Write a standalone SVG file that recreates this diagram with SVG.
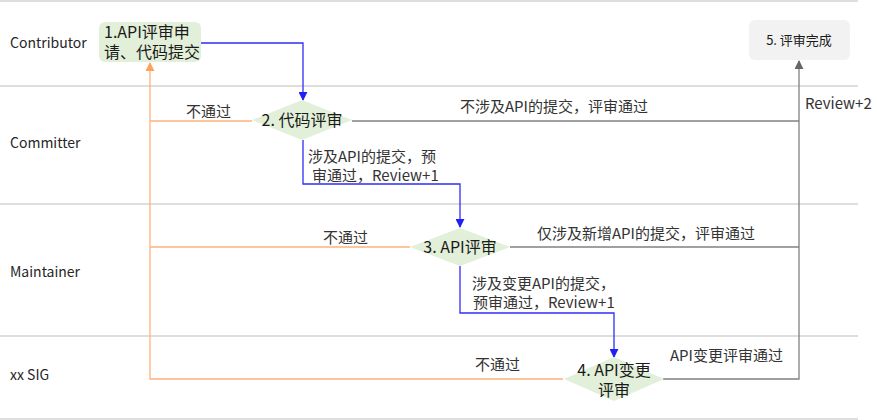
<svg xmlns="http://www.w3.org/2000/svg" width="875" height="420" viewBox="0 0 875 420">
<style>
text{font-family:"Noto Sans CJK SC","Noto Sans",sans-serif;fill:#262626}
.lane{stroke:#dedede;stroke-width:2}
.lbl{font-size:14px}
.node{font-size:16px;fill:#1a1a1a}
.el{font-size:15px;fill:#333}
.blue{stroke:#2e2ef5;stroke-width:1.3;fill:none}
.orange{stroke:#ffb27a;stroke-width:1.3;fill:none}
.gray{stroke:#808080;stroke-width:1.3;fill:none}
.dia{fill:#e2efd9}
</style>
<defs>
<marker id="ab" viewBox="0 0 10 10" refX="9" refY="5" markerWidth="9" markerHeight="9" markerUnits="userSpaceOnUse" orient="auto"><path d="M0,0 L10,5 L0,10 z" fill="#2020f5"/></marker>
<marker id="ao" viewBox="0 0 10 10" refX="9" refY="5" markerWidth="9" markerHeight="9" markerUnits="userSpaceOnUse" orient="auto"><path d="M0,0 L10,5 L0,10 z" fill="#ffa15c"/></marker>
<marker id="ag" viewBox="0 0 10 10" refX="9" refY="5" markerWidth="9" markerHeight="9" markerUnits="userSpaceOnUse" orient="auto"><path d="M0,0 L10,5 L0,10 z" fill="#666"/></marker>
</defs>
<rect width="875" height="420" fill="#fff"/>
<g id="lanes">
<line class="lane" x1="0" y1="1" x2="858" y2="1"/>
<line class="lane" x1="0" y1="86" x2="858" y2="86"/>
<line class="lane" x1="0" y1="204" x2="858" y2="204"/>
<line class="lane" x1="0" y1="336" x2="858" y2="336"/>
<line class="lane" x1="0" y1="419" x2="858" y2="419"/>
<text class="lbl" x="10" y="48">Contributor</text>
<text class="lbl" x="10" y="148">Committer</text>
<text class="lbl" x="10" y="277">Maintainer</text>
<text class="lbl" x="10" y="380">xx SIG</text>
</g>
<g id="connectors">
<polyline class="blue" points="201,43 303,43 303,100" marker-end="url(#ab)"/>
<polyline class="blue" points="303,140 303,184 460,184 460,227" marker-end="url(#ab)"/>
<polyline class="blue" points="460,266 460,313 614,313 614,357" marker-end="url(#ab)"/>
<polyline class="orange" points="563,379 150,379 150,63" marker-end="url(#ao)"/>
<line class="orange" x1="252" y1="121" x2="150" y2="121"/>
<line class="orange" x1="410" y1="247" x2="150" y2="247"/>
<polyline class="gray" points="663,379 799,379 799,61" marker-end="url(#ag)"/>
<line class="gray" x1="352" y1="121" x2="799" y2="121"/>
<line class="gray" x1="510" y1="247" x2="799" y2="247"/>
<text class="el" x="186" y="117">不通过</text>
<text class="el" x="323" y="243">不通过</text>
<text class="el" x="475" y="370">不通过</text>
<text class="el" x="460" y="112">不涉及API的提交，评审通过</text>
<text class="el" x="537" y="239">仅涉及新增API的提交，评审通过</text>
<text class="el" x="670" y="361">API变更评审通过</text>
<text class="el" x="805" y="109">Review+2</text>
<text class="el" x="308" y="162">涉及API的提交，预</text>
<text class="el" x="312" y="181">审通过，Review+1</text>
<text class="el" x="472" y="289">涉及变更API的提交，</text>
<text class="el" x="473" y="308">预审通过，Review+1</text>
</g>
<g id="n1">
<rect x="99" y="22" width="102" height="40" rx="6" fill="#e2efd9"/>
<text class="node" x="104" y="38">1.API评审申</text>
<text class="node" x="104" y="58">请、代码提交</text>
</g>
<g id="n2">
<polygon class="dia" points="302,100 352,120 302,140 252,120"/>
<text class="node" x="302" y="126" text-anchor="middle">2. 代码评审</text>
</g>
<g id="n3">
<polygon class="dia" points="460,228 510,247 460,266 410,247"/>
<text class="node" x="460" y="253" text-anchor="middle">3. API评审</text>
</g>
<g id="n4">
<polygon class="dia" points="614,357 664,379 614,401 564,379"/>
<text class="node" x="614" y="376" text-anchor="middle">4. API变更</text>
<text class="node" x="614" y="396" text-anchor="middle">评审</text>
</g>
<g id="n5">
<rect x="749" y="20" width="101" height="40" rx="6" fill="#f2f2f2"/>
<text x="799" y="45" text-anchor="middle" style="font-size:13px;fill:#1a1a1a">5. 评审完成</text>
</g>
</svg>
